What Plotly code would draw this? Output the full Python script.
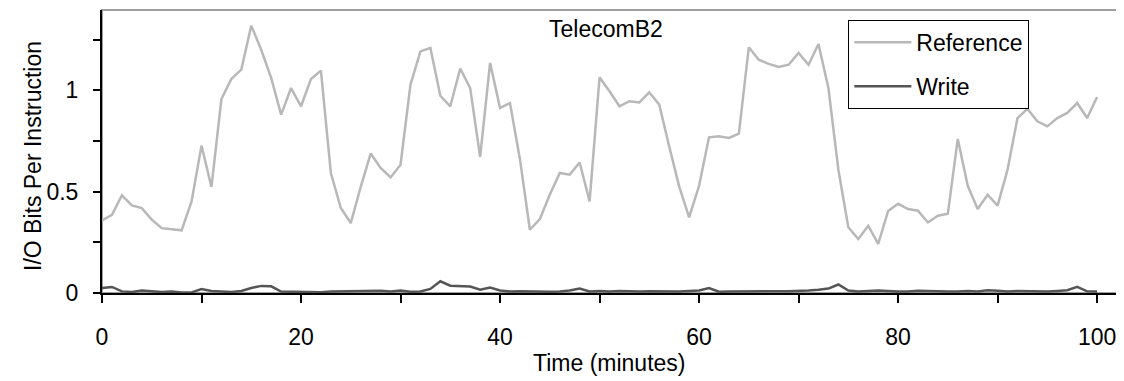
import plotly.graph_objects as go

minutes = list(range(0, 101))

reference = [
    0.358, 0.386, 0.482, 0.432, 0.419, 0.362, 0.320, 0.315, 0.309, 0.452,
    0.727, 0.523, 0.957, 1.056, 1.102, 1.319, 1.200, 1.061, 0.880, 1.011,
    0.921, 1.056, 1.097, 0.592, 0.419, 0.345, 0.524, 0.688, 0.617, 0.570,
    0.633, 1.028, 1.192, 1.209, 0.973, 0.921, 1.107, 1.011, 0.671, 1.135,
    0.913, 0.937, 0.660, 0.312, 0.365, 0.485, 0.592, 0.584, 0.644, 0.452,
    1.064, 0.995, 0.921, 0.946, 0.940, 0.990, 0.929, 0.723, 0.526, 0.373,
    0.529, 0.768, 0.773, 0.765, 0.786, 1.212, 1.151, 1.130, 1.115, 1.126,
    1.184, 1.126, 1.228, 1.011, 0.608, 0.324, 0.266, 0.332, 0.242, 0.405,
    0.440, 0.414, 0.406, 0.348, 0.381, 0.391, 0.760, 0.529, 0.414, 0.485,
    0.431, 0.608, 0.863, 0.908, 0.847, 0.822, 0.863, 0.888, 0.937, 0.863,
    0.967,
]

write = [
    0.025, 0.030, 0.008, 0.005, 0.012, 0.008, 0.005, 0.007, 0.003, 0.003,
    0.020, 0.010, 0.008, 0.005, 0.010, 0.025, 0.035, 0.033, 0.007, 0.007,
    0.005, 0.005, 0.004, 0.008, 0.009, 0.009, 0.008, 0.012, 0.011, 0.008,
    0.012, 0.006, 0.007, 0.020, 0.058, 0.036, 0.034, 0.032, 0.016, 0.027,
    0.012, 0.008, 0.009, 0.007, 0.006, 0.006, 0.007, 0.012, 0.022, 0.008,
    0.010, 0.008, 0.010, 0.008, 0.007, 0.009, 0.008, 0.009, 0.007, 0.010,
    0.012, 0.024, 0.006, 0.007, 0.008, 0.008, 0.009, 0.008, 0.009, 0.009,
    0.010, 0.012, 0.016, 0.022, 0.042, 0.012, 0.008, 0.011, 0.012, 0.010,
    0.007, 0.008, 0.011, 0.010, 0.008, 0.007, 0.008, 0.010, 0.008, 0.014,
    0.011, 0.008, 0.010, 0.009, 0.008, 0.007, 0.010, 0.014, 0.030, 0.008,
    0.007,
]

x_tick_vals = [0, 10, 20, 30, 40, 50, 60, 70, 80, 90, 100]
x_tick_text = ["0", "", "20", "", "40", "", "60", "", "80", "", "100"]
y_tick_vals = [0, 0.25, 0.5, 0.75, 1.0, 1.25]
y_tick_text = ["0", "", "0.5", "", "1", ""]

FONT = "Liberation Sans, Arial, sans-serif"

fig = go.Figure()
fig.add_trace(go.Scatter(
    x=minutes, y=reference, mode="lines", name="Reference",
    line=dict(color="#b8b8b8", width=2.5), legendgroup="a",
))
fig.add_trace(go.Scatter(
    x=minutes, y=write, mode="lines", name="Write",
    line=dict(color="#555555", width=2.5), legendgroup="b",
))

# page body has an 8px default margin; figure is sized/margined to compensate
fig.update_layout(
    width=1116, height=373,
    margin=dict(l=94, r=7, t=2, b=88),
    paper_bgcolor="white", plot_bgcolor="white",
    font=dict(family=FONT, size=23, color="black"),
    showlegend=True,
    legend=dict(
        x=0.7353, y=0.965, xanchor="left", yanchor="top",
        bordercolor="black", borderwidth=1, bgcolor="white",
        font=dict(family=FONT, size=23), tracegroupgap=11,
        itemwidth=57, entrywidth=186, entrywidthmode="pixels",
    ),
    xaxis=dict(
        range=[0, 102], tickvals=x_tick_vals, ticktext=x_tick_text,
        ticks="outside", ticklen=8, tickwidth=1.5, tickcolor="black",
        showline=True, linecolor="black", linewidth=2,
        showgrid=False, zeroline=False,
        tickfont=dict(family=FONT, size=23), ticklabelstandoff=14,
    ),
    yaxis=dict(
        range=[0, 1.396], tickvals=y_tick_vals, ticktext=y_tick_text,
        ticks="outside", ticklen=7, tickwidth=1.5, tickcolor="black",
        showline=True, linecolor="black", linewidth=2,
        showgrid=False, zeroline=False,
        tickfont=dict(family=FONT, size=23), ticklabelstandoff=10,
    ),
    shapes=[dict(
        type="rect", xref="paper", yref="paper", x0=0, y0=0, x1=1, y1=1,
        line=dict(color="#a0a0a0", width=2), layer="below",
    )],
    annotations=[
        dict(text="TelecomB2", xref="paper", yref="paper", x=0.497, y=0.933,
             xanchor="center", yanchor="middle", showarrow=False,
             font=dict(family=FONT, size=23)),
        dict(text="Time (minutes)", xref="paper", yref="paper", x=0.5, y=-0.246,
             xanchor="center", yanchor="middle", showarrow=False,
             font=dict(family=FONT, size=23)),
        dict(text="I/O Bits Per Instruction", xref="paper", yref="paper",
             x=-0.0687, y=0.485, xanchor="center", yanchor="middle",
             textangle=-90, showarrow=False,
             font=dict(family=FONT, size=23)),
    ],
)

fig.write_html("out.html")
